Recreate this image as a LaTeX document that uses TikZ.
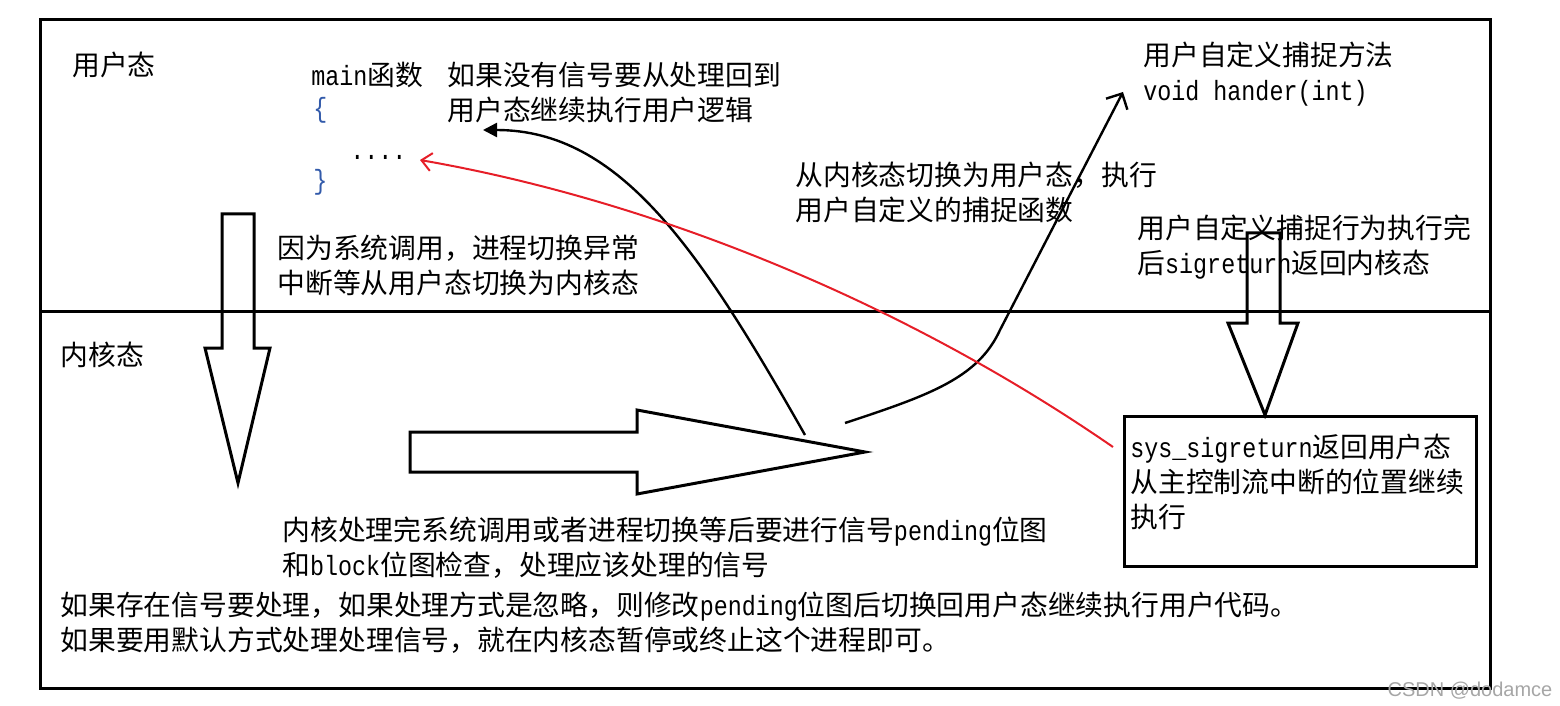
\documentclass[tikz,border=0pt]{standalone}
\usepackage{fontspec}
\setmainfont{Noto Sans CJK SC}
\newfontfamily\mono[FakeStretch=0.84]{Liberation Mono}
\newfontfamily\wmfont{Liberation Sans}
\usetikzlibrary{arrows.meta}
\definecolor{brace}{RGB}{50,90,170}
\definecolor{sigred}{RGB}{230,30,40}
\tikzset{
  txt/.style={anchor=west, inner sep=0pt, align=left, font=\fontsize{13.9}{17.5}\selectfont},
  frame/.style={line width=1.5pt},
  blockarr/.style={line width=1.5pt, line join=miter},
  flow/.style={line width=1.2pt},
}
\begin{document}
\begin{tikzpicture}[x=0.5pt,y=-0.5pt]
\useasboundingbox (0,0) rectangle (1560,706);
\draw[frame] (40,20) rectangle (1490,688);
\draw[frame] (40,311) -- (1490,311);
\node[txt] (user) at (72,65) {用户态};
\node[txt] (kern) at (60,355) {内核态};
\node[txt] (mainf) at (311,75) {{\mono main}函数};
\node[txt,text=brace] (lbr) at (313,110) {{\mono\{}};
\node[txt] (dots) at (350,157) {{\mono....}};
\node[txt,text=brace] (rbr) at (313,182) {{\mono\}}};
\node[txt] (nosig) at (447,92.5) {如果没有信号要从处理回到\\用户态继续执行用户逻辑};
\node[txt] (hander) at (1143,74) {用户自定义捕捉方法\\{\mono void hander(int)}};
\node[txt] (touser) at (795,192.5) {从内核态切换为用户态，执行\\用户自定义的捕捉函数};
\node[txt] (done) at (1137,247.5) {用户自定义捕捉行为执行完\\后{\mono sigreturn}返回内核态};
\node[txt] (syscall) at (277,265.5) {因为系统调用，进程切换异常\\中断等从用户态切换为内核态};
\node[txt] (check) at (282,548) {内核处理完系统调用或者进程切换等后要进行信号{\mono pending}位图\\和{\mono block}位图检查，处理应该处理的信号};
\node[txt] (ignore) at (60,622.5) {如果存在信号要处理，如果处理方式是忽略，则修改{\mono pending}位图后切换回用户态继续执行用户代码。\\如果要用默认方式处理处理信号，就在内核态暂停或终止这个进程即可。};
\node[draw, frame, minimum width=176pt, minimum height=75pt, anchor=north west, inner sep=0pt] (retbox) at (1123,415) {};
\node[txt] (ret) at (1130,482) {{\mono sys\_sigreturn}返回用户态\\从主控制流中断的位置继续\\执行};
\node[font=\wmfont\fontsize{10}{12}\selectfont, text=black!35, inner sep=0pt] (wm) at (1470,691) {CSDN @dodamce};
\draw[blockarr] (222,214) -- (254,214) -- (254,348) -- (270,348) -- (238,483) -- (205,348) -- (222,348) -- cycle;
\draw[blockarr] (410,432) -- (637,432) -- (637,410) -- (865,452) -- (637,494) -- (637,472) -- (410,472) -- cycle;
\draw[blockarr] (1247,233) -- (1280,233) -- (1280,323) -- (1298,323) -- (1265,415) -- (1228,323) -- (1247,323) -- cycle;
\coordinate (k1) at (805,435);
\coordinate (u1) at (483,130);
\coordinate (k2) at (845,423);
\coordinate (h1) at (1123,92);
\coordinate (s1) at (1113,447);
\coordinate (d1) at (420,160);
\draw[flow,-{Triangle[length=7pt,width=7pt]}] (k1) .. controls (700,250) and (620,130) .. (u1);
\draw[flow,-{Straight Barb[length=6pt,width=12pt]}] (k2) .. controls (930,395) and (978,378) .. (1000,330) -- (h1);
\draw[sigred,line width=1pt,-{Straight Barb[length=5pt,width=9pt]}] (s1) .. controls (900,300) and (650,200) .. (d1);
\end{tikzpicture}
\end{document}
